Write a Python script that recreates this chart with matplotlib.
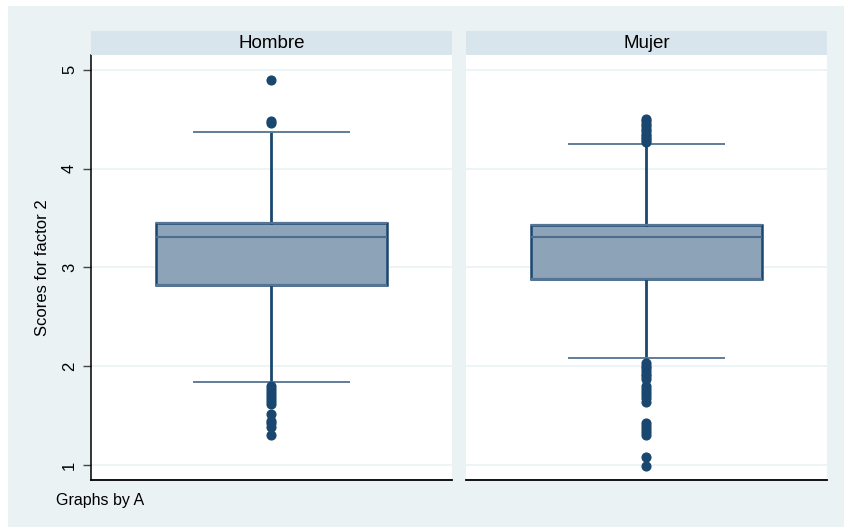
import matplotlib.pyplot as plt
from matplotlib.patches import Rectangle

plt.rcParams['font.family'] = ['Liberation Sans', 'DejaVu Sans']

# Box summaries for factor 2 scores, by group A
groups = ['Hombre', 'Mujer']
q1 = [2.82, 2.88]
median = [3.31, 3.31]
q3 = [3.45, 3.43]
whis_lo = [1.84, 2.085]
whis_hi = [4.37, 4.245]
outliers = [
    [4.90, 4.46, 4.48,
     1.80, 1.77, 1.74, 1.71, 1.68, 1.65, 1.62, 1.52, 1.45, 1.42, 1.38, 1.30],
    [4.27, 4.29, 4.31, 4.33, 4.35, 4.38, 4.40, 4.43, 4.45, 4.48, 4.50,
     2.03, 2.00, 1.98, 1.95, 1.92, 1.90, 1.87, 1.80, 1.77, 1.74, 1.71, 1.68,
     1.64, 1.42, 1.39, 1.36, 1.33, 1.30, 1.08, 0.99],
]
yticks = [1, 2, 3, 4, 5]

navy = '#1A476F'
W, H = 845, 527

fig = plt.figure(figsize=(W / 100, H / 100), dpi=100, facecolor='white')
fig.patches.append(Rectangle((8 / W, 0), 1, (H - 6) / H, transform=fig.transFigure,
                             facecolor='#EAF2F3', edgecolor='none', zorder=-10))

panel_x = [(91, 452), (466, 827)]
top, bottom, strip_top = 55, 480, 31

for i, (x0, x1) in enumerate(panel_x):
    ax = fig.add_axes([x0 / W, (H - bottom) / H, (x1 - x0) / W, (bottom - top) / H])
    ax.set_facecolor('white')
    stats = [dict(med=median[i], q1=q1[i], q3=q3[i], whislo=whis_lo[i],
                  whishi=whis_hi[i], fliers=outliers[i])]
    ax.bxp(stats, positions=[0], widths=0.64, capwidths=0.43, patch_artist=True,
           boxprops=dict(facecolor='#8DA3B8', edgecolor=navy, linewidth=1.8),
           medianprops=dict(color='#4E6D8C', linewidth=1.5),
           whiskerprops=dict(color=navy, linewidth=2),
           capprops=dict(color='#5E7C99', linewidth=1.4),
           flierprops=dict(marker='o', markerfacecolor=navy, markeredgecolor=navy,
                           markersize=6.3))
    ax.hlines([q1[i], q3[i]], -0.32, 0.32, color='#567594', linewidth=1.6, zorder=3)
    ax.set_xlim(-0.5, 0.5)
    ax.set_ylim(0.848, 5.15)
    ax.set_xticks([])
    ax.set_yticks(yticks)
    ax.yaxis.grid(True, color='#EAF2F3', linewidth=1.2)
    ax.set_axisbelow(True)
    for s in ['top', 'right']:
        ax.spines[s].set_visible(False)
    ax.spines['bottom'].set_color('black')
    ax.spines['bottom'].set_linewidth(1.3)
    if i == 0:
        ax.spines['left'].set_color('black')
        ax.spines['left'].set_linewidth(1.1)
        ax.tick_params(axis='y', direction='out', length=6, width=1, color='#444444',
                       labelsize=12, pad=4)
        for lab in ax.get_yticklabels():
            lab.set_rotation(90)
            lab.set_va('center')
        ax.set_ylabel('Scores for factor 2', fontsize=12, labelpad=9)
    else:
        ax.spines['left'].set_visible(False)
        ax.tick_params(axis='y', left=False, labelleft=False)

    # group strip
    sx = fig.add_axes([x0 / W, (H - top) / H, (x1 - x0) / W, (top - strip_top) / H])
    sx.set_facecolor('#D9E5EC')
    sx.set_xticks([])
    sx.set_yticks([])
    for s in sx.spines.values():
        s.set_visible(False)
    sx.text(0.5, 0.5, groups[i], ha='center', va='center', fontsize=13.5,
            transform=sx.transAxes)

fig.text(56 / W, 1 - 500 / H, 'Graphs by A', fontsize=11.5, va='center', ha='left')

fig.savefig('out.png', dpi=100, facecolor=fig.get_facecolor())
